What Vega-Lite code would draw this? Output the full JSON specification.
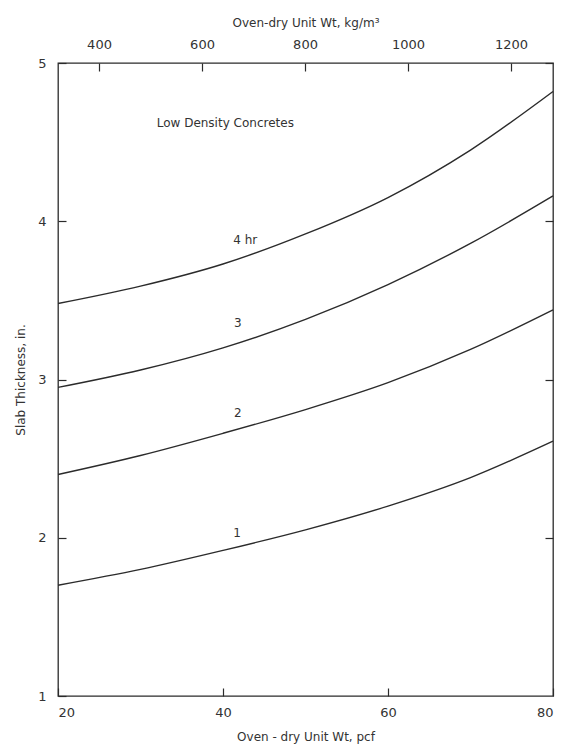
{
  "$schema": "https://vega.github.io/schema/vega-lite/v6.json",
  "autosize": {"type": "none"},
  "width": 495,
  "height": 633,
  "padding": {"left": 58, "top": 63, "right": 18, "bottom": 57},
  "background": "white",
  "config": {
    "view": {"stroke": "#2b2b2b", "strokeWidth": 1.3},
    "font": "DejaVu Sans",
    "axis": {
      "domain": false,
      "grid": false,
      "tickColor": "#2b2b2b",
      "tickWidth": 1.2,
      "format": "d",
      "labelFont": "DejaVu Sans",
      "labelFontSize": 13,
      "labelColor": "#333333",
      "titleFont": "DejaVu Sans",
      "titleFontSize": 12,
      "titleFontWeight": "normal",
      "titleColor": "#333333"
    }
  },
  "datasets": {
    "curves": [
      {"pcf": 20, "t": 1.70, "hr": "1"}, {"pcf": 30, "t": 1.80, "hr": "1"}, {"pcf": 40, "t": 1.92, "hr": "1"}, {"pcf": 50, "t": 2.05, "hr": "1"}, {"pcf": 60, "t": 2.20, "hr": "1"}, {"pcf": 70, "t": 2.38, "hr": "1"}, {"pcf": 80, "t": 2.61, "hr": "1"},
      {"pcf": 20, "t": 2.40, "hr": "2"}, {"pcf": 30, "t": 2.52, "hr": "2"}, {"pcf": 40, "t": 2.66, "hr": "2"}, {"pcf": 50, "t": 2.81, "hr": "2"}, {"pcf": 60, "t": 2.98, "hr": "2"}, {"pcf": 70, "t": 3.19, "hr": "2"}, {"pcf": 80, "t": 3.44, "hr": "2"},
      {"pcf": 20, "t": 2.95, "hr": "3"}, {"pcf": 30, "t": 3.06, "hr": "3"}, {"pcf": 40, "t": 3.20, "hr": "3"}, {"pcf": 50, "t": 3.38, "hr": "3"}, {"pcf": 60, "t": 3.60, "hr": "3"}, {"pcf": 70, "t": 3.86, "hr": "3"}, {"pcf": 80, "t": 4.16, "hr": "3"},
      {"pcf": 20, "t": 3.48, "hr": "4"}, {"pcf": 30, "t": 3.59, "hr": "4"}, {"pcf": 40, "t": 3.73, "hr": "4"}, {"pcf": 50, "t": 3.92, "hr": "4"}, {"pcf": 60, "t": 4.15, "hr": "4"}, {"pcf": 70, "t": 4.45, "hr": "4"}, {"pcf": 80, "t": 4.82, "hr": "4"}
    ],
    "curveLabels": [
      {"pcf": 41.7, "t": 2.03, "label": "1"},
      {"pcf": 41.8, "t": 2.79, "label": "2"},
      {"pcf": 41.8, "t": 3.36, "label": "3"},
      {"pcf": 42.7, "t": 3.88, "label": "4 hr"}
    ],
    "heading": [
      {"kg": 512, "t": 4.62, "label": "Low Density Concretes"}
    ]
  },
  "layer": [
    {
      "layer": [
        {
          "data": {"name": "curves"},
          "mark": {"type": "line", "color": "#2b2b2b", "strokeWidth": 1.4, "interpolate": "monotone"},
          "encoding": {
            "x": {
              "field": "pcf", "type": "quantitative",
              "scale": {"domain": [20, 80], "nice": false},
              "axis": {"orient": "bottom", "values": [20, 40, 60, 80], "tickSize": -8, "labelPadding": 18, "title": "Oven - dry Unit Wt,  pcf", "titlePadding": 12}
            },
            "y": {
              "field": "t", "type": "quantitative",
              "scale": {"domain": [1, 5], "nice": false},
              "axis": {"orient": "left", "values": [1, 2, 3, 4, 5], "tickSize": -8, "labelPadding": 20, "title": "Slab Thickness, in.", "titlePadding": 10}
            },
            "detail": {"field": "hr"}
          }
        },
        {
          "data": {"name": "curveLabels"},
          "mark": {"type": "text", "font": "DejaVu Sans", "fontSize": 12, "color": "#333333"},
          "encoding": {
            "x": {"field": "pcf", "type": "quantitative"},
            "y": {"field": "t", "type": "quantitative"},
            "text": {"field": "label"}
          }
        }
      ]
    },
    {
      "data": {"name": "heading"},
      "mark": {"type": "text", "align": "left", "font": "DejaVu Sans", "fontSize": 12, "color": "#333333"},
      "encoding": {
        "x": {
          "field": "kg", "type": "quantitative",
          "scale": {"domain": [320.37, 1281.48], "nice": false},
          "axis": {"orient": "top", "values": [400, 600, 800, 1000, 1200], "tickSize": -8, "labelPadding": 20, "title": "Oven-dry Unit Wt,  kg/m³", "titlePadding": 9}
        },
        "y": {
          "field": "t", "type": "quantitative",
          "scale": {"domain": [1, 5], "nice": false},
          "axis": {"orient": "right", "values": [2, 3, 4, 5], "tickSize": -8, "labels": false, "title": null}
        },
        "text": {"field": "label"}
      }
    }
  ],
  "resolve": {"scale": {"x": "independent"}, "axis": {"x": "independent", "y": "independent"}}
}
